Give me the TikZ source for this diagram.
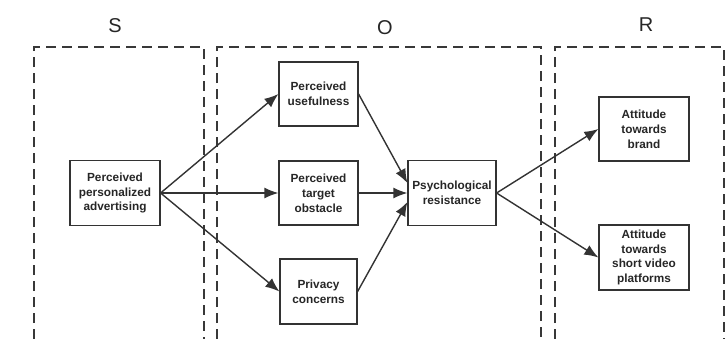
\documentclass[tikz,border=0pt]{standalone}
\usepackage{fontspec}
\setmainfont{Liberation Sans}
\usetikzlibrary{arrows.meta}
\begin{document}
\begin{tikzpicture}[x=1pt,y=-1pt,
  region/.style={draw=black!78, line width=1.2pt, dash pattern=on 10pt off 6pt},
  lbl/.style={font=\fontsize{20}{24}\selectfont, text=black!85},
  blk/.style={draw=black!80, line width=1.2pt, align=center, inner sep=0pt,
    font=\bfseries\fontsize{11.8}{14.8}\selectfont, text=black!85},
  arr/.style={draw=black!80, line width=1.4pt, -{Latex[length=14pt,width=11pt]}}]
\useasboundingbox (0,0) rectangle (726,338);
% regions
\draw[region] (34,339) -- (34,47) -- (204,47) -- (204,339);
\draw[region] (217,339) -- (217,47) -- (541,47) -- (541,339);
\draw[region] (555,339) -- (555,47) -- (724,47) -- (724,339);
\node[lbl] (S) at (115,26) {S};
\node[lbl] (O) at (385,28) {O};
\node[lbl] (R) at (646,25) {R};
% boxes
\node[blk, minimum width=90pt, minimum height=65pt] (ppa) at (115,193) {Perceived\\personalized\\advertising};
\node[blk, minimum width=79pt, minimum height=64pt] (pu) at (318.5,94) {Perceived\\usefulness};
\node[blk, minimum width=79pt, minimum height=64pt] (pto) at (318.5,193) {Perceived\\target\\obstacle};
\node[blk, minimum width=77pt, minimum height=65pt] (pc) at (318.5,291.5) {Privacy\\concerns};
\node[blk, minimum width=88pt, minimum height=65pt] (pr) at (452,193) {Psychological\\resistance};
\node[blk, minimum width=90pt, minimum height=64pt] (atb) at (644,129) {Attitude\\towards\\brand};
\node[blk, minimum width=90pt, minimum height=65pt] (ats) at (644,257.5) {Attitude\\towards\\short video\\platforms};
% arrows
\draw[arr] (ppa.east) -- (pu.west);
\draw[arr] (ppa.east) -- (pto.west);
\draw[arr] (ppa.east) -- (pc.west);
\draw[arr] (pu.east) -- ([yshift=10pt]pr.west);
\draw[arr] (pto.east) -- (pr.west);
\draw[arr] (pc.east) -- ([yshift=-9pt]pr.west);
\draw[arr] (pr.east) -- (atb.west);
\draw[arr] (pr.east) -- (ats.west);
\end{tikzpicture}
\end{document}
